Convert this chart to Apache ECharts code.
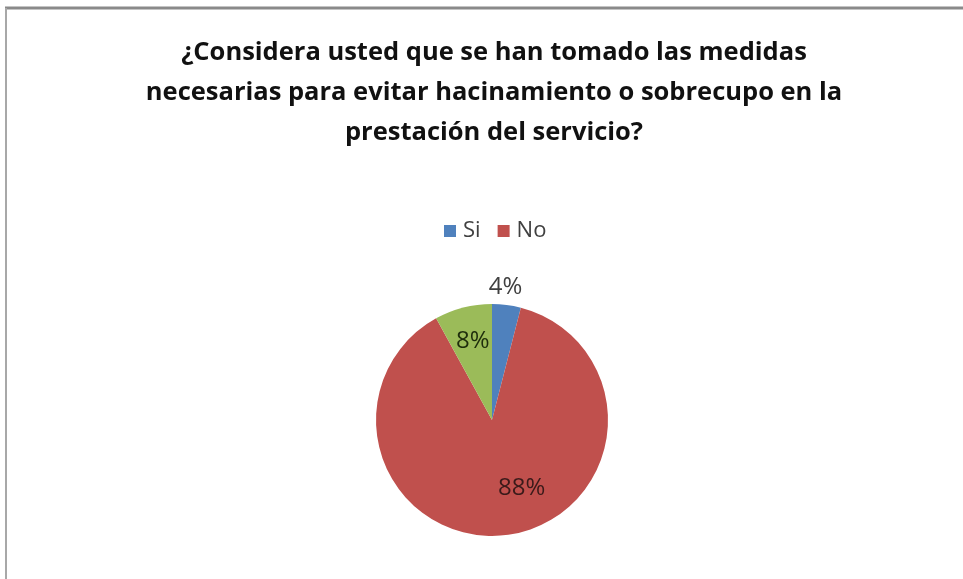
<!DOCTYPE html>
<html>
<head>
<meta charset="utf-8">
<script src="https://cdn.jsdelivr.net/npm/echarts@6/dist/echarts.min.js"></script>
<style>html,body{margin:0;padding:0;background:#fff}#c{width:963px;height:579px}</style>
</head>
<body>
<div id="c"></div>
<script>
const titleText = '¿Considera usted que se han tomado las medidas\nnecesarias para evitar hacinamiento o sobrecupo en la\nprestación del servicio?';
const categories = ['Si', 'No', ''];
const values = [4, 88, 8];
const legendItems = ['Si', 'No'];
const colors = ['#4F81BD', '#C0504D', '#9BBB59'];
const labelColors = ['#404040', '#3a1a1a', '#1e2d0c'];
const labelOffsets = [[6, -72], [22, 8], [-4, -20]];

const chart = echarts.init(document.getElementById('c'), null, {renderer: 'canvas'});
const option = {
  animation: false,
  color: colors,
  title: {
    text: titleText,
    left: 489,
    top: 28,
    textAlign: 'center',
    textStyle: {
      fontFamily: 'Open Sans',
      fontWeight: 'bold',
      fontSize: 25.5,
      lineHeight: 40,
      color: '#111'
    }
  },
  legend: {
    data: legendItems,
    left: 439,
    top: 215,
    itemWidth: 12,
    itemHeight: 12,
    itemGap: 17,
    icon: 'rect',
    textStyle: {fontFamily: 'Open Sans', fontSize: 22, color: '#404040', padding: [0, 0, 0, 2]}
  },
  graphic: [
    {type: 'line', shape: {x1: 5, y1: 8, x2: 963, y2: 8}, style: {stroke: '#8a8a8a', lineWidth: 3}, silent: true},
    {type: 'line', shape: {x1: 6, y1: 8, x2: 6, y2: 579}, style: {stroke: '#a8a8a8', lineWidth: 2}, silent: true}
  ],
  series: [{
    type: 'pie',
    center: [492, 420],
    radius: 116,
    startAngle: 90,
    clockwise: true,
    avoidLabelOverlap: false,
    labelLine: {show: false},
    label: {position: 'inside', formatter: '{d}%', fontFamily: 'Open Sans', fontSize: 24},
    data: categories.map((n, i) => ({
      name: n,
      value: values[i],
      label: {color: labelColors[i], offset: labelOffsets[i]}
    }))
  }]
};
chart.setOption(option);
</script>
</body>
</html>
